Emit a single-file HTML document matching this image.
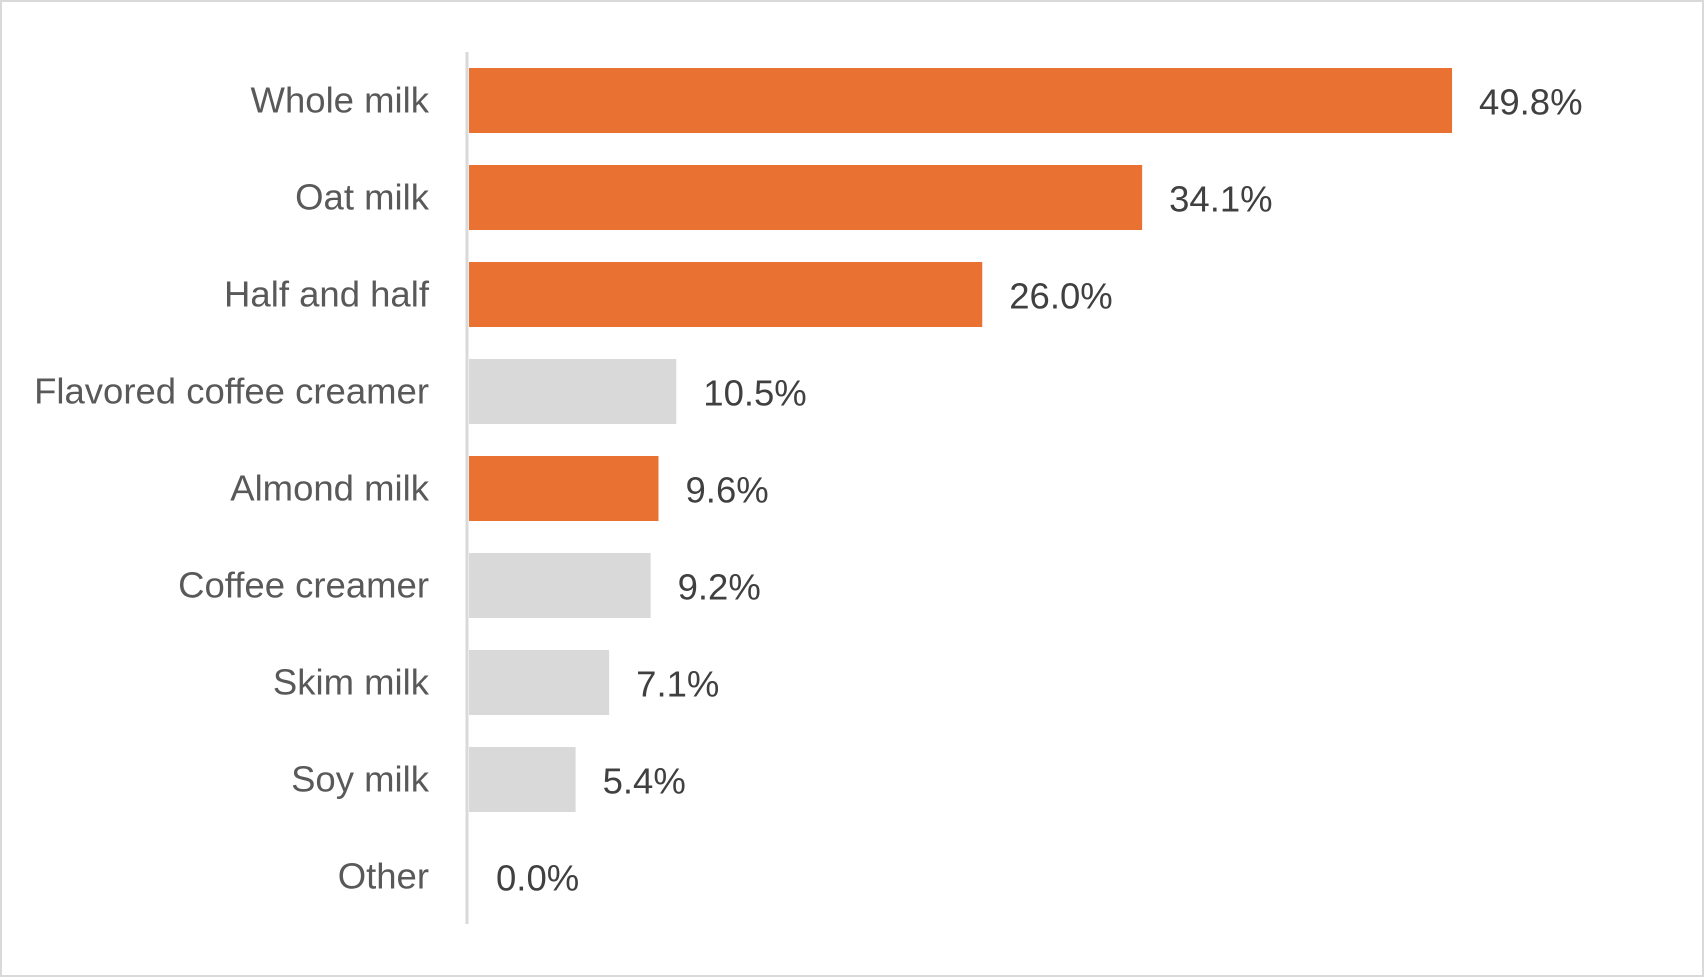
<!DOCTYPE html>
<html><head><meta charset="utf-8"><style>
body{margin:0;background:#fff}
svg{display:block}
text{font-family:"Liberation Sans",sans-serif}
</style></head><body>
<svg id="c" width="1704" height="977">
<rect x="1" y="1" width="1702" height="975" fill="#fff" stroke="#d9d9d9" stroke-width="2"/>
<g id="bars"></g>
<line x1="467" y1="52" x2="467" y2="924" stroke="#d9d9d9" stroke-width="3"/>
</svg>
<script>
const categories=["Whole milk","Oat milk","Half and half","Flavored coffee creamer","Almond milk","Coffee creamer","Skim milk","Soy milk","Other"];
const values=[49.8,34.1,26.0,10.5,9.6,9.2,7.1,5.4,0.0];
const highlighted=[true,true,true,false,true,false,false,false,false];
const x0=469, pxPer=19.74, topY=68, step=97, bh=65;
const xs=v=>x0+v*pxPer;
const ys=i=>topY+i*step;
const ns="http://www.w3.org/2000/svg";
const g=document.getElementById('bars');
categories.forEach((c,i)=>{
  const y=ys(i), cy=y+bh/2;
  const r=document.createElementNS(ns,'rect');
  r.setAttribute('x',x0);r.setAttribute('y',y);
  r.setAttribute('width',xs(values[i])-x0);r.setAttribute('height',bh);
  r.setAttribute('fill',highlighted[i]?'#e97132':'#d9d9d9');
  
  
  g.appendChild(r);
  const t=document.createElementNS(ns,'text');
  t.setAttribute('x',429);t.setAttribute('y',cy+12);
  t.setAttribute('text-anchor','end');t.setAttribute('font-size','36.5');t.setAttribute('fill','#595959');
  t.textContent=c;
  
  
  g.appendChild(t);
  const v=document.createElementNS(ns,'text');
  v.setAttribute('x',xs(values[i])+27);v.setAttribute('y',cy+14);
  v.setAttribute('font-size','36.5');v.setAttribute('fill','#404040');
  v.textContent=values[i].toFixed(1)+'%';
  
  
  g.appendChild(v);
});
</script>
</body></html>
